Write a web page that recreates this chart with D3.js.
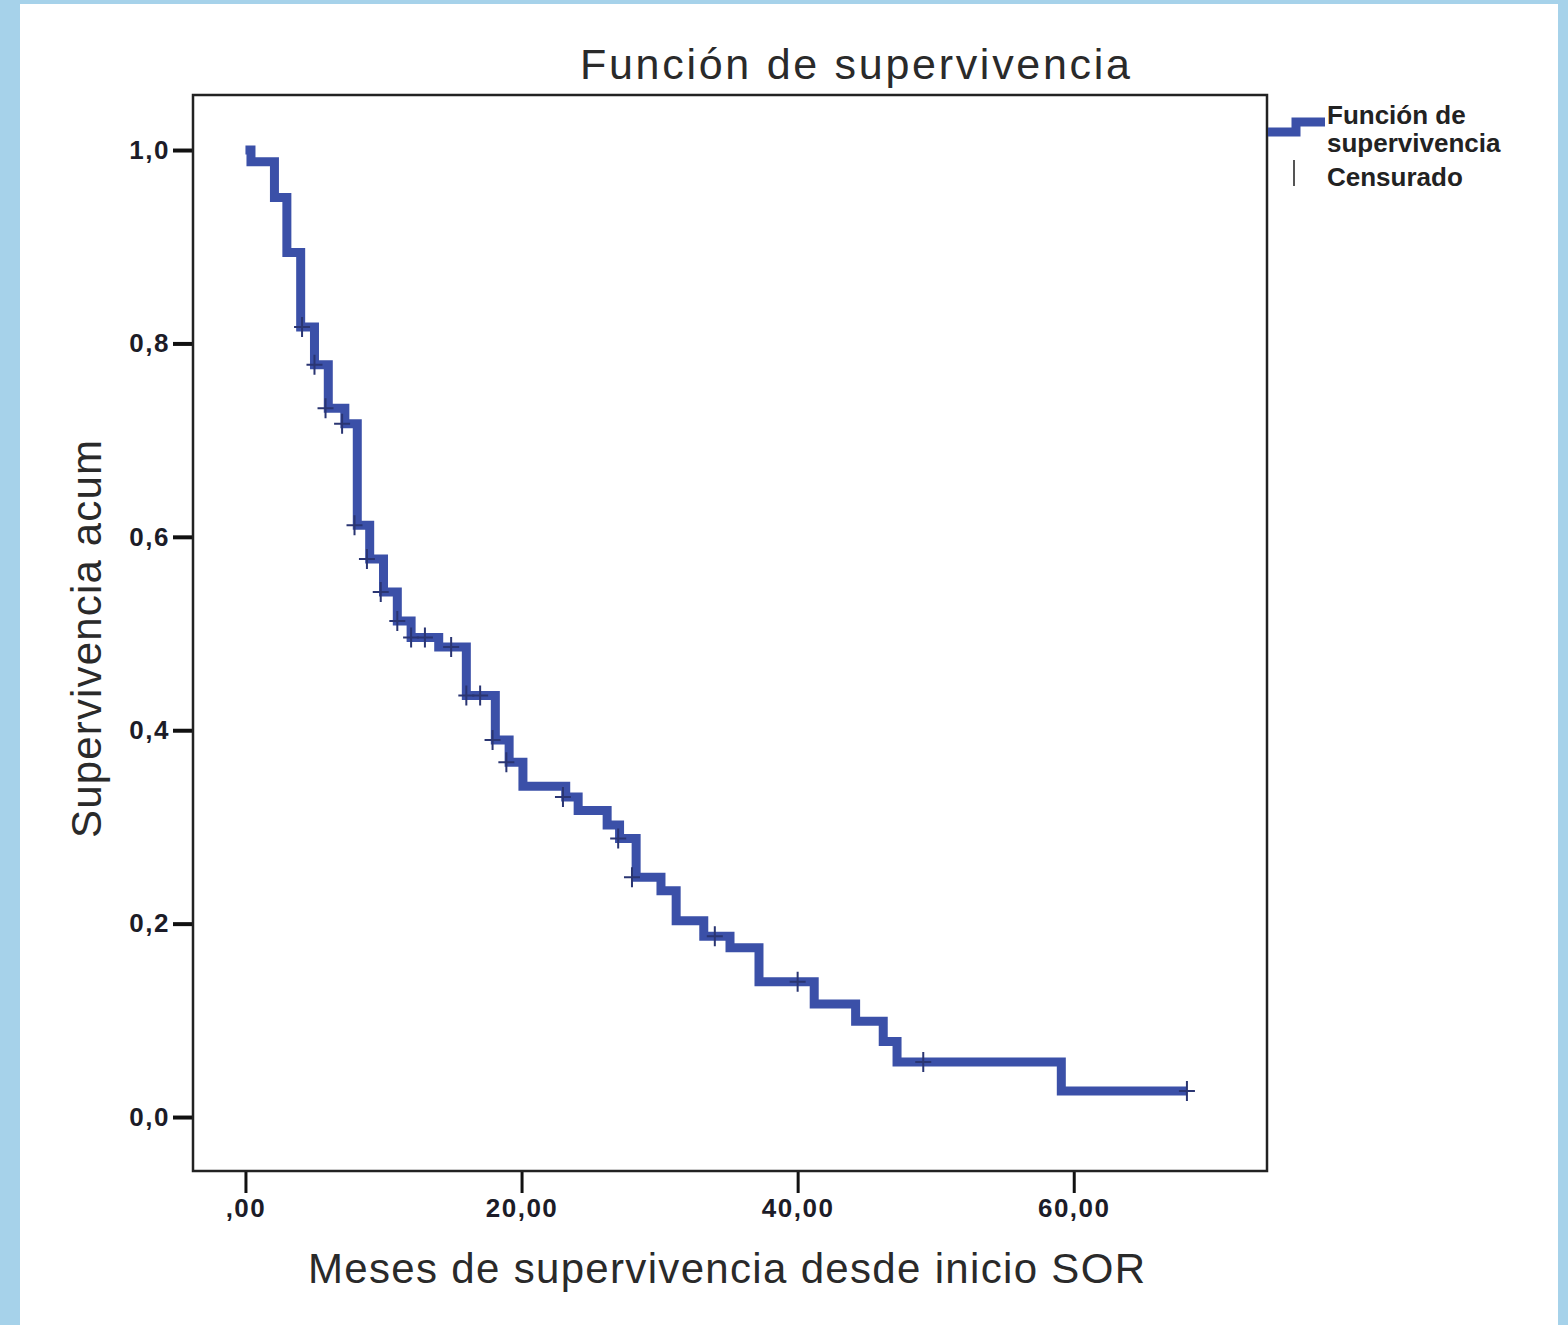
<!DOCTYPE html>
<html>
<head>
<meta charset="utf-8">
<script src="https://d3js.org/d3.v7.min.js"></script>
<style>
  body { margin: 0; background: #a6d2ea; }
  svg { display: block; }
</style>
</head>
<body>
<svg id="chart" width="1568" height="1325"></svg>
<script>
// Kaplan-Meier steps (months, cumulative survival)
const eventTimes = [0, 0.4, 2.1, 3.0, 4.0, 5.0, 6.0, 7.2, 8.1, 9.0, 10.0, 11.0, 12.0, 14.0, 16.0, 18.1, 19.1, 20.1, 23.2, 24.1, 26.2, 27.1, 28.3, 30.1, 31.2, 33.2, 35.1, 37.2, 41.2, 44.2, 46.2, 47.2, 59.1]
const survival = [1.0, 0.988, 0.951, 0.894, 0.817, 0.778, 0.733, 0.717, 0.612, 0.577, 0.543, 0.513, 0.496, 0.486, 0.436, 0.39, 0.367, 0.342, 0.331, 0.317, 0.302, 0.288, 0.248, 0.234, 0.203, 0.187, 0.175, 0.14, 0.117, 0.099, 0.078, 0.057, 0.027]
const lastFollowUp = 68.2

// censored cases
const censorTimes = [4.1, 5.0, 5.8, 7.0, 7.9, 8.8, 9.8, 11.0, 12.0, 13.0, 14.9, 16.0, 17.0, 17.9, 18.9, 23.0, 27.0, 28.0, 34.0, 40.0, 49.1, 68.2]
const censorValues = [0.817, 0.778, 0.733, 0.717, 0.612, 0.577, 0.543, 0.513, 0.496, 0.496, 0.486, 0.436, 0.436, 0.39, 0.367, 0.331, 0.288, 0.248, 0.187, 0.14, 0.057, 0.027]

const xTicks = [0, 20, 40, 60]
const yTicks = [0, 0.2, 0.4, 0.6, 0.8, 1.0]

const lineColor = '#3b50a8'
const svg = d3.select('#chart')

// white panel inside the blue border
svg.append('rect')
  .attr('x', 20).attr('y', 4)
  .attr('width', 1538).attr('height', 1330)
  .attr('fill', '#ffffff')

const frame = { left: 193, top: 95, right: 1267, bottom: 1171 }

const x = d3.scaleLinear()
  .domain([-3.8, 74.0])
  .range([frame.left, frame.right])
const y = d3.scaleLinear()
  .domain([-0.0558, 1.0569])
  .range([frame.bottom, frame.top])

// title
svg.append('text')
  .attr('x', 580).attr('y', 79)
  .attr('textLength', 550).attr('lengthAdjust', 'spacing')
  .style('font', '43px "Liberation Sans", Arial, sans-serif')
  .attr('fill', '#2a2a2a')
  .text('Función de supervivencia')

// axes
const yAxis = d3.axisLeft(y)
  .tickValues(yTicks)
  .tickSize(20)
  .tickPadding(3)
  .tickFormat(d => d3.format('.1f')(d).replace('.', ','))
const xAxis = d3.axisBottom(x)
  .tickValues(xTicks)
  .tickSize(22)
  .tickPadding(6)
  .tickFormat(d => d === 0 ? ',00' : d3.format('.2f')(d).replace('.', ','))

const gy = svg.append('g')
  .attr('transform', `translate(${frame.left},0)`)
  .call(yAxis)
const gx = svg.append('g')
  .attr('transform', `translate(0,${frame.bottom})`)
  .call(xAxis)

gy.select('.domain').remove()
gx.select('.domain').remove()
gy.selectAll('.tick line').attr('stroke', '#111').attr('stroke-width', 4)
gx.selectAll('.tick line').attr('stroke', '#111').attr('stroke-width', 3)
svg.selectAll('.tick text')
  .attr('fill', '#1c1c28')
  .style('font', 'bold 26px "Liberation Sans", Arial, sans-serif')
  .style('letter-spacing', '1.5px')

// plot frame
svg.append('rect')
  .attr('x', frame.left).attr('y', frame.top)
  .attr('width', frame.right - frame.left)
  .attr('height', frame.bottom - frame.top)
  .attr('fill', 'none')
  .attr('stroke', '#222')
  .attr('stroke-width', 2.5)

// axis titles
svg.append('text')
  .attr('x', 308).attr('y', 1283)
  .attr('textLength', 837).attr('lengthAdjust', 'spacing')
  .style('font', '42px "Liberation Sans", Arial, sans-serif')
  .attr('fill', '#2a2a2a')
  .text('Meses de supervivencia desde inicio SOR')

svg.append('text')
  .attr('transform', 'translate(101,838) rotate(-90)')
  .attr('textLength', 398).attr('lengthAdjust', 'spacing')
  .style('font', '42px "Liberation Sans", Arial, sans-serif')
  .attr('fill', '#2a2a2a')
  .text('Supervivencia acum')

// survival step line
const steps = eventTimes.map((t, i) => [t, survival[i]])
steps.push([lastFollowUp, survival[survival.length - 1]])

const line = d3.line()
  .x(d => x(d[0]))
  .y(d => y(d[1]))
  .curve(d3.curveStepAfter)

svg.append('path')
  .datum(steps)
  .attr('d', line)
  .attr('fill', 'none')
  .attr('stroke', lineColor)
  .attr('stroke-width', 9)
  .attr('stroke-linejoin', 'miter')

// censor marks
svg.append('g')
  .selectAll('path')
  .data(censorTimes.map((t, i) => [t, censorValues[i]]))
  .join('path')
  .attr('d', d => {
    const cx = x(d[0])
    const cy = y(d[1])
    return `M${cx},${cy - 10}V${cy + 10}M${cx - 8},${cy}H${cx + 8}`
  })
  .attr('stroke', '#2a3572')
  .attr('stroke-width', 2)
  .attr('fill', 'none')

// legend
const legend = svg.append('g')
legend.append('path')
  .attr('d', 'M1268,132H1296V122H1325')
  .attr('fill', 'none')
  .attr('stroke', lineColor)
  .attr('stroke-width', 9)
legend.append('line')
  .attr('x1', 1294).attr('x2', 1294)
  .attr('y1', 160).attr('y2', 186)
  .attr('stroke', '#555')
  .attr('stroke-width', 2)

const legendText = [['Función de', 124], ['supervivencia', 152], ['Censurado', 186]]
legend.selectAll('text')
  .data(legendText)
  .join('text')
  .attr('x', 1327)
  .attr('y', d => d[1])
  .style('font', 'bold 26px "Liberation Sans", Arial, sans-serif')
  .attr('fill', '#222')
  .text(d => d[0])
</script>
</body>
</html>
